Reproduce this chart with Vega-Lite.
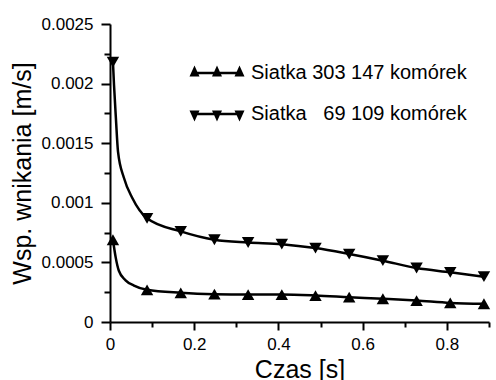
{
  "$schema": "https://vega.github.io/schema/vega-lite/v6.json",
  "width": 379,
  "height": 298,
  "autosize": {"type": "none"},
  "padding": {"left": 110, "top": 24, "right": 7, "bottom": 58},
  "background": "white",
  "config": {
    "view": {"stroke": null},
    "font": "Liberation Sans",
    "axis": {
      "grid": false,
      "domainColor": "black",
      "domainWidth": 2,
      "tickColor": "black",
      "tickWidth": 2,
      "labelColor": "black",
      "labelFont": "Liberation Sans",
      "labelFontSize": 17,
      "labelFlush": false,
      "labelOverlap": false,
      "labelBound": false,
      "titleColor": "black",
      "titleFont": "Liberation Sans",
      "titleFontWeight": "normal",
      "titleFontSize": 25
    }
  },
  "data": {
    "values": [
      {"t": 0.007, "v": 0.00218, "series": "Siatka \u00a0\u00a069 109 komórek", "marker": true},
      {"t": 0.0095, "v": 0.00199, "series": "Siatka \u00a0\u00a069 109 komórek", "marker": false},
      {"t": 0.014, "v": 0.00171, "series": "Siatka \u00a0\u00a069 109 komórek", "marker": false},
      {"t": 0.019, "v": 0.00143, "series": "Siatka \u00a0\u00a069 109 komórek", "marker": false},
      {"t": 0.033, "v": 0.00121, "series": "Siatka \u00a0\u00a069 109 komórek", "marker": false},
      {"t": 0.053, "v": 0.00104, "series": "Siatka \u00a0\u00a069 109 komórek", "marker": false},
      {"t": 0.088, "v": 0.00087, "series": "Siatka \u00a0\u00a069 109 komórek", "marker": true},
      {"t": 0.168, "v": 0.00076, "series": "Siatka \u00a0\u00a069 109 komórek", "marker": true},
      {"t": 0.248, "v": 0.00069, "series": "Siatka \u00a0\u00a069 109 komórek", "marker": true},
      {"t": 0.328, "v": 0.000667, "series": "Siatka \u00a0\u00a069 109 komórek", "marker": true},
      {"t": 0.408, "v": 0.000653, "series": "Siatka \u00a0\u00a069 109 komórek", "marker": true},
      {"t": 0.488, "v": 0.00062, "series": "Siatka \u00a0\u00a069 109 komórek", "marker": true},
      {"t": 0.568, "v": 0.00057, "series": "Siatka \u00a0\u00a069 109 komórek", "marker": true},
      {"t": 0.648, "v": 0.000514, "series": "Siatka \u00a0\u00a069 109 komórek", "marker": true},
      {"t": 0.728, "v": 0.000453, "series": "Siatka \u00a0\u00a069 109 komórek", "marker": true},
      {"t": 0.808, "v": 0.000417, "series": "Siatka \u00a0\u00a069 109 komórek", "marker": true},
      {"t": 0.888, "v": 0.00038, "series": "Siatka \u00a0\u00a069 109 komórek", "marker": true},
      {"t": 0.007, "v": 0.00069, "series": "Siatka 303 147 komórek", "marker": true},
      {"t": 0.0136, "v": 0.00054, "series": "Siatka 303 147 komórek", "marker": false},
      {"t": 0.021, "v": 0.00043, "series": "Siatka 303 147 komórek", "marker": false},
      {"t": 0.037, "v": 0.00035, "series": "Siatka 303 147 komórek", "marker": false},
      {"t": 0.057, "v": 0.000306, "series": "Siatka 303 147 komórek", "marker": false},
      {"t": 0.088, "v": 0.00027, "series": "Siatka 303 147 komórek", "marker": true},
      {"t": 0.168, "v": 0.000245, "series": "Siatka 303 147 komórek", "marker": true},
      {"t": 0.248, "v": 0.000233, "series": "Siatka 303 147 komórek", "marker": true},
      {"t": 0.328, "v": 0.00023, "series": "Siatka 303 147 komórek", "marker": true},
      {"t": 0.408, "v": 0.00023, "series": "Siatka 303 147 komórek", "marker": true},
      {"t": 0.488, "v": 0.000222, "series": "Siatka 303 147 komórek", "marker": true},
      {"t": 0.568, "v": 0.000208, "series": "Siatka 303 147 komórek", "marker": true},
      {"t": 0.648, "v": 0.000195, "series": "Siatka 303 147 komórek", "marker": true},
      {"t": 0.728, "v": 0.00018, "series": "Siatka 303 147 komórek", "marker": true},
      {"t": 0.808, "v": 0.00016, "series": "Siatka 303 147 komórek", "marker": true},
      {"t": 0.888, "v": 0.000153, "series": "Siatka 303 147 komórek", "marker": true}
    ]
  },
  "encoding": {
    "x": {
      "field": "t",
      "type": "quantitative",
      "scale": {"domain": [0, 0.9], "nice": false, "zero": false},
      "axis": {
        "title": "Czas [s]",
        "values": [0, 0.1, 0.2, 0.3, 0.4, 0.5, 0.6, 0.7, 0.8, 0.9],
        "labelExpr": "abs(datum.value*5 - round(datum.value*5)) < 0.001 ? toString(round(datum.value*10)/10) : ''",
        "tickSize": {"condition": {"test": "abs(datum.value*5 - round(datum.value*5)) < 0.001", "value": 8}, "value": 5},
        "labelPadding": 6,
        "titlePadding": 5
      }
    },
    "y": {
      "field": "v",
      "type": "quantitative",
      "scale": {"domain": [0, 0.0025], "nice": false},
      "axis": {
        "title": "Wsp. wnikania [m/s]",
        "values": [0, 0.00025, 0.0005, 0.00075, 0.001, 0.00125, 0.0015, 0.00175, 0.002, 0.00225, 0.0025],
        "labelExpr": "abs(datum.value*2000 - round(datum.value*2000)) < 0.001 ? toString(round(datum.value*10000)/10000) : ''",
        "tickSize": {"condition": {"test": "abs(datum.value*2000 - round(datum.value*2000)) < 0.001", "value": 9}, "value": 6},
        "labelPadding": 8,
        "titlePadding": 6
      }
    }
  },
  "layer": [
    {
      "mark": {"type": "line", "interpolate": "monotone", "color": "black", "strokeWidth": 2.5},
      "encoding": {"detail": {"field": "series", "type": "nominal"}}
    },
    {
      "transform": [{"filter": "datum.marker"}],
      "mark": {"type": "point", "filled": true, "color": "black", "opacity": 1, "size": 155},
      "encoding": {
        "shape": {
          "field": "series",
          "type": "nominal",
          "scale": {"domain": ["Siatka 303 147 komórek", "Siatka \u00a0\u00a069 109 komórek"], "range": ["triangle-up", "triangle-down"]},
          "legend": null
        }
      }
    },
    {
      "transform": [{"filter": "datum.marker"}],
      "mark": {"type": "point", "filled": true, "color": "black", "opacity": 0},
      "encoding": {
        "shape": {
          "field": "series",
          "type": "nominal",
          "scale": {
            "domain": ["Siatka 303 147 komórek", "Siatka \u00a0\u00a069 109 komórek"],
            "range": [
              "M-2.25,-0.75L-1.968,-0.13L-0.282,-0.13L0,-0.75L0.282,-0.13L1.968,-0.13L2.25,-0.75L2.75,0.35L1.75,0.35L1.85,0.13L0.4,0.13L0.5,0.35L-0.5,0.35L-0.4,0.13L-1.85,0.13L-1.75,0.35L-2.75,0.35Z",
              "M-2.25,0.75L-1.968,0.13L-0.282,0.13L0,0.75L0.282,0.13L1.968,0.13L2.25,0.75L2.75,-0.35L1.75,-0.35L1.85,-0.13L0.4,-0.13L0.5,-0.35L-0.5,-0.35L-0.4,-0.13L-1.85,-0.13L-1.75,-0.35L-2.75,-0.35Z"
            ]
          },
          "legend": {
            "title": null,
            "orient": "none",
            "legendX": 96,
            "legendY": 38,
            "padding": 0,
            "symbolSize": 400,
            "symbolOpacity": 1,
            "symbolFillColor": "black",
            "labelFont": "Liberation Sans",
            "labelFontSize": 20,
            "labelColor": "black",
            "labelOffset": 23,
            "labelLimit": 400,
            "rowPadding": 20,
            "encode": {
              "symbols": {
                "update": {
                  "fill": {"value": "black"},
                  "opacity": {"value": 1}
                }
              }
            }
          }
        }
      }
    }
  ],
  "resolve": {"scale": {"shape": "independent"}, "legend": {"shape": "independent"}}
}
